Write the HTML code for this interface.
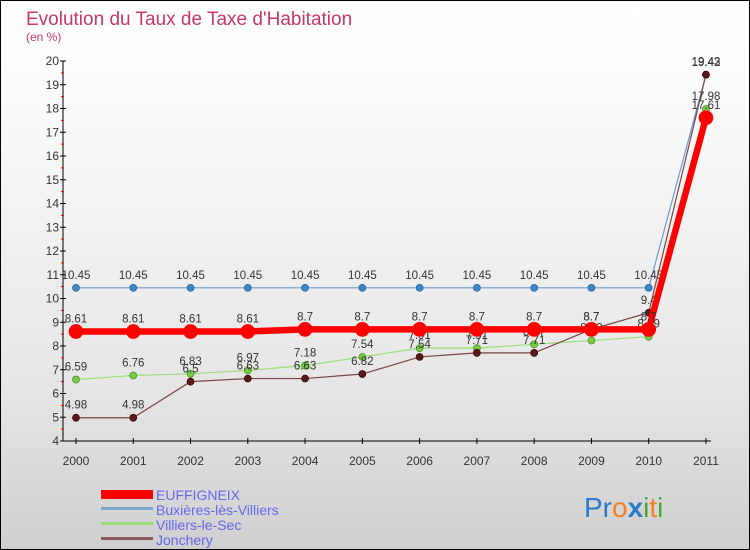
<!DOCTYPE html>
<html><head><meta charset="utf-8"><style>
body{margin:0}
#c{width:750px;height:550px;position:relative;box-sizing:border-box;border:1px solid #000;background:linear-gradient(#fff,#fcfcfc 15%,#e6e6e6 70%,#cfcfcf);font-family:"Liberation Sans",sans-serif;overflow:hidden}
</style></head><body>
<div id="c">
<svg id="s" width="750" height="550" style="position:absolute;left:0;top:0">
<text x="25" y="24" font-size="19" fill="#c8366a">Evolution du Taux de Taxe d'Habitation</text>
<text x="25" y="40" font-size="12" fill="#c8366a">(en %)</text>
<g id="ax"></g><g id="marks"></g>
<g>
<rect x="100" y="489" width="52" height="9" fill="#f00"/>
<text x="155" y="499" font-size="14" fill="#6666ee">EUFFIGNEIX</text>
<rect x="100" y="506" width="52" height="3" fill="#7aa7cc"/>
<text x="155" y="514" font-size="14" fill="#6666ee">Buxières-lès-Villiers</text>
<rect x="100" y="521" width="52" height="3" fill="#99dd77"/>
<text x="155" y="529" font-size="14" fill="#6666ee">Villiers-le-Sec</text>
<rect x="100" y="536" width="52" height="3" fill="#8b5a5a"/>
<text x="155" y="544" font-size="14" fill="#6666ee">Jonchery</text>
</g>
<g font-size="28">
<text x="583" y="516"><tspan fill="#2a7bc8">Pr</tspan><tspan fill="#f08020">o</tspan><tspan fill="#2a7bc8" font-weight="bold">x</tspan><tspan fill="#44aa33">i</tspan><tspan fill="#f08020">t</tspan><tspan fill="#44aa33">i</tspan></text>
</g>
</svg>
</div>
<script>
const years=[2000,2001,2002,2003,2004,2005,2006,2007,2008,2009,2010,2011];
const euffigneix=[8.61,8.61,8.61,8.61,8.7,8.7,8.7,8.7,8.7,8.7,8.7,17.61];
const buxieres=[10.45,10.45,10.45,10.45,10.45,10.45,10.45,10.45,10.45,10.45,10.45,19.42];
const villiers=[6.59,6.76,6.83,6.97,7.18,7.54,7.91,7.91,8.07,8.23,8.39,17.98];
const jonchery=[4.98,4.98,6.5,6.63,6.63,6.82,7.54,7.71,7.71,8.7,9.4,19.43];
const yTicks=[4,5,6,7,8,9,10,11,12,13,14,15,16,17,18,19,20];
const NS="http://www.w3.org/2000/svg";
const X=i=>75+i*57.27, Y=v=>440-(v-4)*23.75;
function mk(t,a,p){const e=document.createElementNS(NS,t);for(const k in a)e.setAttribute(k,a[k]);p.appendChild(e);return e;}
const ax=document.getElementById('ax'), mg=document.getElementById('marks');
let l=mk('line',{x1:62,y1:60,x2:62,y2:440,stroke:'#000'},ax);


l=mk('line',{x1:62,y1:440,x2:710,y2:440,stroke:'#000'},ax);


yTicks.forEach(v=>{
 mk('line',{x1:59,y1:Y(v),x2:65,y2:Y(v),stroke:'#000'},ax);
 if(v<20) mk('line',{x1:60,y1:Y(v+0.5),x2:63,y2:Y(v+0.5),stroke:'#e00'},ax);
 const t=mk('text',{x:58,y:Y(v)+4,'font-size':12,fill:'#333','text-anchor':'end'},ax);t.textContent=v;
 
 
});
years.forEach((y,i)=>{
 mk('line',{x1:X(i),y1:437,x2:X(i),y2:443,stroke:'#000'},ax);
 const t=mk('text',{x:X(i),y:464,'font-size':12,fill:'#333','text-anchor':'middle'},ax);t.textContent=y;
 
 
});
function series(data,name,color,w,r,dot,stroke){
 const g=mk('g',{},mg);
 
 
 mk('polyline',{points:data.map((v,i)=>X(i)+','+Y(v)).join(' '),fill:'none',stroke:color,'stroke-width':w},g);
 data.forEach((v,i)=>{
  const c=mk('circle',{cx:X(i),cy:Y(v),r:r,fill:dot,stroke:stroke,'stroke-width':0.7},g);
  
  
  const t=mk('text',{x:X(i),y:Y(v)-9,'font-size':11.5,fill:'#333','text-anchor':'middle'},g);t.textContent=v;
 });
}
series(buxieres,'buxieres','#6a9ccc',1.2,3.5,'#3a88cc','#2a5a88');
series(villiers,'villiers','#99dd77',1.2,3.5,'#77cc44','#448822');
series(jonchery,'jonchery','#7a4444',1.2,3.5,'#5a1a1a','#300');
series(euffigneix,'euffigneix','#ff0000',6.5,7,'#ff0000','#ff0000');
</script>
</body></html>
